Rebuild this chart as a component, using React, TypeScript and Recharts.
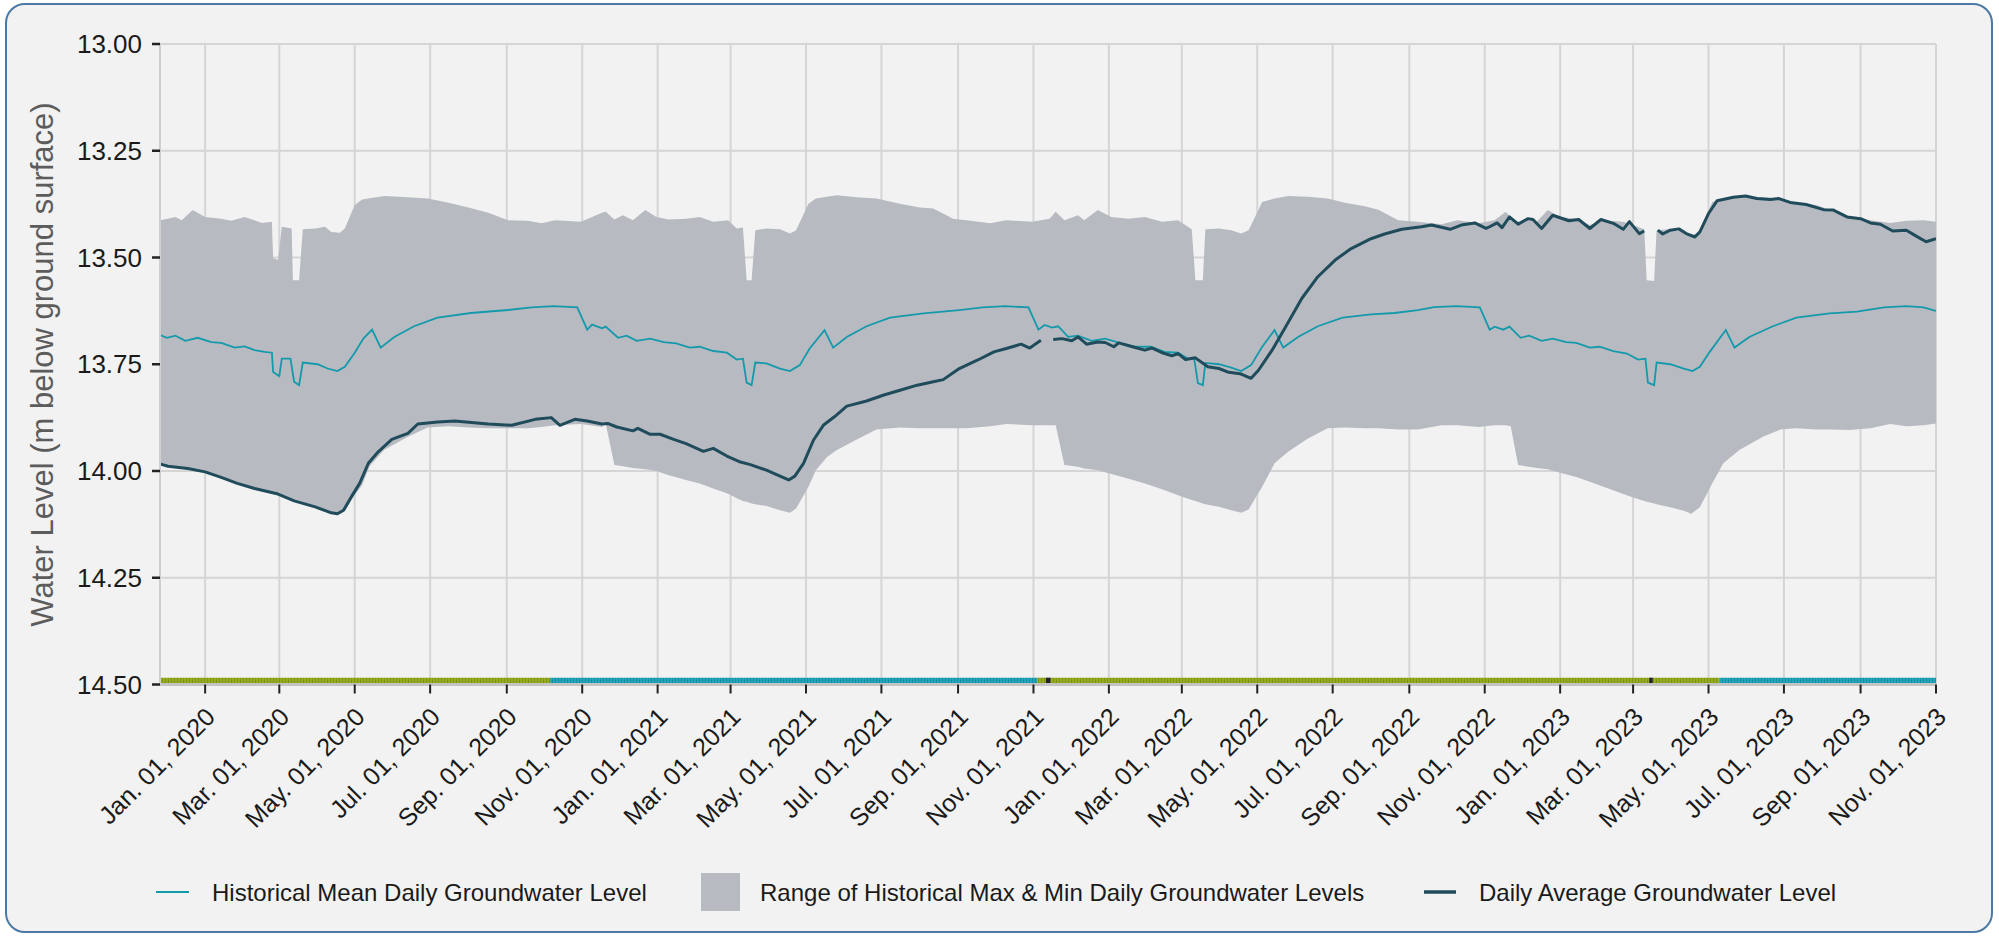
import React from 'react';
import { Area, CartesianGrid, ComposedChart, Line, ReferenceArea, XAxis, YAxis } from 'recharts';

const FONT = '"Liberation Sans", Arial, Helvetica, sans-serif';

const BAND_COLOR = '#b7bbc1';
const MEAN_COLOR = '#1499ab';
const LEVEL_COLOR = '#1f4b5b';
const GRID_COLOR = '#d5d5d5';

const domainStart = '2019-11-25T12:00:00Z';
const domainEnd = '2023-11-01';

const tickDates = [
  '2020-01-01', '2020-03-01', '2020-05-01', '2020-07-01', '2020-09-01', '2020-11-01',
  '2021-01-01', '2021-03-01', '2021-05-01', '2021-07-01', '2021-09-01', '2021-11-01',
  '2022-01-01', '2022-03-01', '2022-05-01', '2022-07-01', '2022-09-01', '2022-11-01',
  '2023-01-01', '2023-03-01', '2023-05-01', '2023-07-01', '2023-09-01', '2023-11-01',
];
const monthLabels = ['Jan.', 'Feb.', 'Mar.', 'Apr.', 'May.', 'Jun.', 'Jul.', 'Aug.', 'Sep.', 'Oct.', 'Nov.', 'Dec.'];
const levelTicks = [13, 13.25, 13.5, 13.75, 14, 14.25, 14.5];

// [date, historical max, historical min]
const historicalRange: [string, number, number][] = [
  ['2019-11-26', 13.413, 13.984], ['2019-12-08', 13.405, 13.99], ['2019-12-13', 13.413, 13.992],
  ['2019-12-22', 13.389, 13.996], ['2020-01-01', 13.405, 14.002], ['2020-01-14', 13.409, 14.015],
  ['2020-01-22', 13.414, 14.024], ['2020-02-02', 13.405, 14.032], ['2020-02-16', 13.419, 14.045],
  ['2020-02-24', 13.416, 14.051], ['2020-02-25', 13.502, 14.052], ['2020-02-29', 13.506, 14.054],
  ['2020-03-03', 13.428, 14.057], ['2020-03-11', 13.432, 14.067], ['2020-03-12', 13.553, 14.068],
  ['2020-03-17', 13.553, 14.073], ['2020-03-20', 13.434, 14.076], ['2020-03-30', 13.432, 14.084],
  ['2020-04-07', 13.428, 14.092], ['2020-04-12', 13.44, 14.098], ['2020-04-19', 13.442, 14.1],
  ['2020-04-23', 13.432, 14.093], ['2020-05-01', 13.377, 14.057], ['2020-05-07', 13.364, 14.033],
  ['2020-05-13', 13.361, 13.989], ['2020-05-25', 13.356, 13.95], ['2020-06-13', 13.359, 13.92],
  ['2020-06-29', 13.362, 13.898], ['2020-07-16', 13.372, 13.895], ['2020-08-01', 13.383, 13.898],
  ['2020-08-17', 13.395, 13.9], ['2020-09-02', 13.413, 13.9], ['2020-09-18', 13.414, 13.9],
  ['2020-09-29', 13.42, 13.897], ['2020-10-10', 13.413, 13.893], ['2020-10-31', 13.416, 13.89],
  ['2020-11-17', 13.395, 13.897], ['2020-11-20', 13.393, 13.889], ['2020-11-27', 13.411, 13.986],
  ['2020-12-04', 13.401, 13.989], ['2020-12-12', 13.413, 13.993], ['2020-12-22', 13.389, 13.996],
  ['2020-12-31', 13.405, 14.0], ['2021-01-10', 13.411, 14.01], ['2021-01-24', 13.409, 14.021],
  ['2021-02-04', 13.405, 14.029], ['2021-02-15', 13.416, 14.041], ['2021-02-27', 13.413, 14.053],
  ['2021-03-06', 13.432, 14.064], ['2021-03-11', 13.43, 14.07], ['2021-03-14', 13.553, 14.072],
  ['2021-03-18', 13.553, 14.076], ['2021-03-21', 13.436, 14.078], ['2021-03-30', 13.432, 14.082],
  ['2021-04-10', 13.434, 14.092], ['2021-04-18', 13.444, 14.098], ['2021-04-23', 13.436, 14.088],
  ['2021-05-03', 13.374, 14.037], ['2021-05-09', 13.362, 13.998], ['2021-05-18', 13.358, 13.967],
  ['2021-05-26', 13.354, 13.951], ['2021-06-11', 13.359, 13.926], ['2021-06-27', 13.362, 13.903],
  ['2021-07-16', 13.374, 13.898], ['2021-08-01', 13.383, 13.9], ['2021-08-12', 13.385, 13.9],
  ['2021-08-28', 13.409, 13.9], ['2021-09-08', 13.413, 13.9], ['2021-09-27', 13.42, 13.895],
  ['2021-10-10', 13.413, 13.89], ['2021-10-31', 13.416, 13.893], ['2021-11-14', 13.409, 13.893],
  ['2021-11-19', 13.393, 13.893], ['2021-11-26', 13.413, 13.986], ['2021-12-07', 13.401, 13.99],
  ['2021-12-12', 13.413, 13.994], ['2021-12-23', 13.389, 13.998], ['2022-01-03', 13.405, 14.007],
  ['2022-01-17', 13.409, 14.018], ['2022-01-30', 13.405, 14.029], ['2022-02-13', 13.416, 14.043],
  ['2022-02-26', 13.413, 14.057], ['2022-03-09', 13.434, 14.068], ['2022-03-12', 13.553, 14.07],
  ['2022-03-18', 13.553, 14.076], ['2022-03-20', 13.434, 14.078], ['2022-03-31', 13.432, 14.084],
  ['2022-04-10', 13.436, 14.092], ['2022-04-18', 13.444, 14.098], ['2022-04-24', 13.436, 14.09],
  ['2022-05-05', 13.37, 14.037], ['2022-05-15', 13.362, 13.982], ['2022-05-26', 13.356, 13.955],
  ['2022-06-11', 13.358, 13.924], ['2022-06-27', 13.362, 13.9], ['2022-07-11', 13.372, 13.898],
  ['2022-07-27', 13.38, 13.9], ['2022-08-07', 13.388, 13.9], ['2022-08-23', 13.413, 13.903],
  ['2022-09-08', 13.416, 13.903], ['2022-09-27', 13.422, 13.893], ['2022-10-10', 13.413, 13.893],
  ['2022-10-27', 13.42, 13.897], ['2022-11-09', 13.413, 13.893], ['2022-11-18', 13.393, 13.893],
  ['2022-11-22', 13.405, 13.895], ['2022-11-28', 13.416, 13.986], ['2022-12-04', 13.409, 13.989],
  ['2022-12-13', 13.416, 13.993], ['2022-12-22', 13.389, 13.996], ['2023-01-01', 13.405, 14.004],
  ['2023-01-14', 13.409, 14.014], ['2023-01-25', 13.424, 14.025], ['2023-02-05', 13.413, 14.037],
  ['2023-02-21', 13.416, 14.054], ['2023-03-01', 13.424, 14.062], ['2023-03-10', 13.434, 14.07],
  ['2023-03-12', 13.553, 14.072], ['2023-03-18', 13.555, 14.076], ['2023-03-20', 13.436, 14.078],
  ['2023-03-31', 13.434, 14.085], ['2023-04-11', 13.44, 14.093], ['2023-04-17', 13.448, 14.1],
  ['2023-04-24', 13.44, 14.085], ['2023-05-04', 13.37, 14.029], ['2023-05-13', 13.362, 13.982],
  ['2023-05-26', 13.356, 13.951], ['2023-06-14', 13.359, 13.92], ['2023-06-28', 13.362, 13.903],
  ['2023-07-11', 13.372, 13.9], ['2023-07-27', 13.377, 13.903], ['2023-08-07', 13.388, 13.903],
  ['2023-08-23', 13.405, 13.904], ['2023-09-09', 13.413, 13.9], ['2023-09-25', 13.419, 13.89],
  ['2023-10-08', 13.414, 13.895], ['2023-10-22', 13.413, 13.893], ['2023-11-01', 13.416, 13.889],
];

const historicalMean: [string, number][] = [
  ['2019-11-26', 13.682], ['2019-12-01', 13.688], ['2019-12-08', 13.683], ['2019-12-16', 13.695],
  ['2019-12-26', 13.688], ['2020-01-06', 13.698], ['2020-01-14', 13.7], ['2020-01-25', 13.711],
  ['2020-02-02', 13.708], ['2020-02-10', 13.717], ['2020-02-18', 13.721], ['2020-02-24', 13.723],
  ['2020-02-25', 13.768], ['2020-03-01', 13.778], ['2020-03-03', 13.737], ['2020-03-10', 13.737],
  ['2020-03-13', 13.791], ['2020-03-17', 13.799], ['2020-03-20', 13.746], ['2020-04-01', 13.75],
  ['2020-04-09', 13.76], ['2020-04-17', 13.766], ['2020-04-23', 13.756], ['2020-05-01', 13.723],
  ['2020-05-08', 13.69], ['2020-05-15', 13.669], ['2020-05-22', 13.711], ['2020-06-02', 13.686],
  ['2020-06-18', 13.661], ['2020-07-07', 13.641], ['2020-08-03', 13.63], ['2020-09-02', 13.623],
  ['2020-09-21', 13.617], ['2020-10-09', 13.614], ['2020-10-28', 13.617], ['2020-11-05', 13.669],
  ['2020-11-09', 13.657], ['2020-11-17', 13.666], ['2020-11-20', 13.662], ['2020-11-30', 13.688],
  ['2020-12-07', 13.683], ['2020-12-15', 13.695], ['2020-12-26', 13.69], ['2021-01-06', 13.698],
  ['2021-01-16', 13.701], ['2021-01-27', 13.711], ['2021-02-04', 13.709], ['2021-02-15', 13.719],
  ['2021-02-26', 13.723], ['2021-03-06', 13.739], ['2021-03-11', 13.737], ['2021-03-14', 13.793],
  ['2021-03-18', 13.799], ['2021-03-21', 13.746], ['2021-03-30', 13.748], ['2021-04-10', 13.76],
  ['2021-04-18', 13.766], ['2021-04-26', 13.752], ['2021-05-04', 13.713], ['2021-05-16', 13.67],
  ['2021-05-23', 13.711], ['2021-06-03', 13.686], ['2021-06-19', 13.661], ['2021-07-08', 13.641],
  ['2021-08-04', 13.631], ['2021-09-02', 13.623], ['2021-09-21', 13.617], ['2021-10-09', 13.614],
  ['2021-10-28', 13.617], ['2021-11-05', 13.669], ['2021-11-10', 13.658], ['2021-11-16', 13.664],
  ['2021-11-21', 13.661], ['2021-11-29', 13.686], ['2021-12-07', 13.683], ['2021-12-18', 13.695],
  ['2021-12-29', 13.69], ['2022-01-11', 13.701], ['2022-01-22', 13.709], ['2022-02-04', 13.709],
  ['2022-02-15', 13.721], ['2022-02-26', 13.723], ['2022-03-06', 13.737], ['2022-03-11', 13.737],
  ['2022-03-14', 13.794], ['2022-03-18', 13.799], ['2022-03-20', 13.747], ['2022-03-31', 13.75],
  ['2022-04-10', 13.758], ['2022-04-18', 13.766], ['2022-04-26', 13.752], ['2022-05-05', 13.709],
  ['2022-05-15', 13.67], ['2022-05-22', 13.711], ['2022-06-03', 13.686], ['2022-06-19', 13.661],
  ['2022-07-09', 13.641], ['2022-08-01', 13.633], ['2022-08-20', 13.63], ['2022-09-08', 13.623],
  ['2022-09-21', 13.616], ['2022-10-09', 13.614], ['2022-10-28', 13.617], ['2022-11-05', 13.669],
  ['2022-11-09', 13.662], ['2022-11-16', 13.669], ['2022-11-21', 13.662], ['2022-11-30', 13.688],
  ['2022-12-07', 13.683], ['2022-12-17', 13.695], ['2022-12-26', 13.69], ['2023-01-06', 13.698],
  ['2023-01-14', 13.7], ['2023-01-25', 13.711], ['2023-02-02', 13.709], ['2023-02-13', 13.719],
  ['2023-02-24', 13.725], ['2023-03-05', 13.739], ['2023-03-11', 13.737], ['2023-03-13', 13.793],
  ['2023-03-18', 13.799], ['2023-03-20', 13.746], ['2023-03-31', 13.75], ['2023-04-11', 13.76],
  ['2023-04-18', 13.766], ['2023-04-24', 13.756], ['2023-05-02', 13.721], ['2023-05-15', 13.67],
  ['2023-05-22', 13.711], ['2023-06-03', 13.686], ['2023-06-22', 13.661], ['2023-07-11', 13.641],
  ['2023-08-07', 13.631], ['2023-08-29', 13.627], ['2023-09-20', 13.617], ['2023-10-08', 13.614],
  ['2023-10-22', 13.617], ['2023-11-01', 13.625],
];

// null = no record (line breaks there)
const dailyAverage: [string, number | null][] = [
  ['2019-11-26', 13.984], ['2019-12-02', 13.989], ['2019-12-18', 13.994], ['2020-01-01', 14.002],
  ['2020-01-14', 14.015], ['2020-01-27', 14.029], ['2020-02-10', 14.041], ['2020-02-29', 14.054],
  ['2020-03-13', 14.07], ['2020-03-30', 14.084], ['2020-04-12', 14.098], ['2020-04-17', 14.1],
  ['2020-04-22', 14.092], ['2020-04-29', 14.057], ['2020-05-05', 14.029], ['2020-05-12', 13.982],
  ['2020-05-20', 13.955], ['2020-05-31', 13.926], ['2020-06-13', 13.912], ['2020-06-21', 13.89],
  ['2020-07-07', 13.885], ['2020-07-21', 13.883], ['2020-08-17', 13.89], ['2020-09-05', 13.893],
  ['2020-09-24', 13.879], ['2020-10-07', 13.875], ['2020-10-14', 13.893], ['2020-10-26', 13.879],
  ['2020-11-05', 13.883], ['2020-11-17', 13.89], ['2020-11-22', 13.889], ['2020-11-29', 13.897],
  ['2020-12-12', 13.906], ['2020-12-16', 13.9], ['2020-12-26', 13.914], ['2021-01-03', 13.914],
  ['2021-01-14', 13.926], ['2021-01-24', 13.936], ['2021-02-07', 13.954], ['2021-02-15', 13.947],
  ['2021-02-26', 13.965], ['2021-03-09', 13.979], ['2021-03-17', 13.985], ['2021-03-30', 13.998],
  ['2021-04-10', 14.012], ['2021-04-17', 14.021], ['2021-04-22', 14.012], ['2021-04-29', 13.982],
  ['2021-05-07', 13.928], ['2021-05-15', 13.893], ['2021-05-24', 13.873], ['2021-06-03', 13.848],
  ['2021-06-19', 13.836], ['2021-07-03', 13.822], ['2021-07-16', 13.811], ['2021-07-30', 13.799],
  ['2021-08-12', 13.791], ['2021-08-20', 13.786], ['2021-09-02', 13.76], ['2021-09-17', 13.74],
  ['2021-09-30', 13.721], ['2021-10-10', 13.713], ['2021-10-22', 13.703], ['2021-10-29', 13.712],
  ['2021-11-07', 13.694], ['2021-11-12', null], ['2021-11-17', 13.692], ['2021-11-24', 13.69],
  ['2021-12-02', 13.695], ['2021-12-07', 13.686], ['2021-12-14', 13.703], ['2021-12-23', 13.698],
  ['2021-12-29', 13.699], ['2022-01-05', 13.709], ['2022-01-09', 13.7], ['2022-01-20', 13.709],
  ['2022-01-30', 13.717], ['2022-02-05', 13.712], ['2022-02-13', 13.723], ['2022-02-21', 13.73],
  ['2022-02-26', 13.725], ['2022-03-04', 13.739], ['2022-03-12', 13.735], ['2022-03-22', 13.756],
  ['2022-03-31', 13.76], ['2022-04-08', 13.769], ['2022-04-17', 13.772], ['2022-04-26', 13.783],
  ['2022-05-02', 13.764], ['2022-05-13', 13.717], ['2022-05-24', 13.662], ['2022-06-06', 13.596],
  ['2022-06-19', 13.545], ['2022-07-03', 13.506], ['2022-07-16', 13.479], ['2022-08-01', 13.456],
  ['2022-08-12', 13.445], ['2022-08-26', 13.434], ['2022-09-11', 13.428], ['2022-09-19', 13.424],
  ['2022-10-04', 13.434], ['2022-10-13', 13.424], ['2022-10-24', 13.419], ['2022-11-02', 13.432],
  ['2022-11-05', 13.428], ['2022-11-11', 13.419], ['2022-11-15', 13.43], ['2022-11-21', 13.405],
  ['2022-11-28', 13.422], ['2022-12-06', 13.409], ['2022-12-10', 13.411], ['2022-12-17', 13.432],
  ['2022-12-26', 13.401], ['2023-01-08', 13.414], ['2023-01-16', 13.411], ['2023-01-25', 13.432],
  ['2023-02-03', 13.411], ['2023-02-13', 13.42], ['2023-02-21', 13.434], ['2023-02-26', 13.416],
  ['2023-03-06', 13.444], ['2023-03-10', 13.438], ['2023-03-15', null], ['2023-03-21', 13.436],
  ['2023-03-25', 13.445], ['2023-03-31', 13.436], ['2023-04-07', 13.433], ['2023-04-13', 13.444],
  ['2023-04-20', 13.452], ['2023-04-24', 13.44], ['2023-05-01', 13.397], ['2023-05-08', 13.367],
  ['2023-05-21', 13.359], ['2023-05-31', 13.356], ['2023-06-09', 13.362], ['2023-06-20', 13.364],
  ['2023-06-27', 13.362], ['2023-07-06', 13.371], ['2023-07-19', 13.376], ['2023-08-02', 13.388],
  ['2023-08-10', 13.389], ['2023-08-21', 13.405], ['2023-09-01', 13.409], ['2023-09-09', 13.419],
  ['2023-09-17', 13.422], ['2023-09-27', 13.438], ['2023-10-08', 13.436], ['2023-10-16', 13.45],
  ['2023-10-24', 13.463], ['2023-11-01', 13.456],
];

// status strip along the bottom of the plot: [from, to, colour key]
const statusStrip: [string, string, string][] = [
  [domainStart, '2020-10-06', 'green'],
  ['2020-10-06', '2021-11-04', 'blue'],
  ['2021-11-04', '2021-11-11', 'green'],
  ['2021-11-11', '2021-11-15', 'black'],
  ['2021-11-15', '2023-03-14', 'green'],
  ['2023-03-14', '2023-03-17', 'black'],
  ['2023-03-17', '2023-05-10', 'green'],
  ['2023-05-10', domainEnd, 'blue'],
];
const stripFill: Record<string, string> = {
  green: 'url(#stripeGreen)',
  blue: 'url(#stripeBlue)',
  black: '#222222',
};

const toTime = (d: string) => new Date(d.length === 10 ? `${d}T00:00:00Z` : d).getTime();

const formatDate = (t: number) => {
  const d = new Date(t);
  const day = String(d.getUTCDate()).padStart(2, '0');
  return `${monthLabels[d.getUTCMonth()]} ${day}, ${d.getUTCFullYear()}`;
};

const XTick = (props: any) => {
  const { x, y, payload } = props;
  const ax = x + 11.5;
  const ay = y + 23;
  return (
    <text
      x={ax}
      y={ay}
      transform={`rotate(-45 ${ax} ${ay})`}
      textAnchor="end"
      fontSize={25}
      fontFamily={FONT}
      fill="#1a1a1a"
    >
      {formatDate(payload.value)}
    </text>
  );
};

const App = () => {
  const rangeData = historicalRange.map(([d, max, min]) => ({ t: toTime(d), range: [min, max] }));
  const meanData = historicalMean.map(([d, v]) => ({ t: toTime(d), v }));
  const levelData = dailyAverage.map(([d, v]) => ({ t: toTime(d), v }));

  return (
    <div style={{ position: 'absolute', left: 0, top: 0, width: 1999, height: 936, background: '#ffffff', fontFamily: FONT }}>
      <div
        style={{
          position: 'absolute',
          left: 5,
          top: 3,
          width: 1988,
          height: 930,
          boxSizing: 'border-box',
          border: '2.5px solid #4a79a6',
          borderRadius: 20,
          background: '#f2f2f2',
        }}
      />
      <div style={{ position: 'absolute', left: 0, top: 0 }}>
        <ComposedChart width={1999} height={936} margin={{ top: 44, right: 63, bottom: 221.5, left: 0 }}>
          <defs>
            <pattern id="stripeGreen" width="3" height="10" patternUnits="userSpaceOnUse">
              <rect width="3" height="10" fill="#93ab1d" />
              <rect width="1" height="10" fill="#7f9518" />
            </pattern>
            <pattern id="stripeBlue" width="3" height="10" patternUnits="userSpaceOnUse">
              <rect width="3" height="10" fill="#22a5ba" />
              <rect width="1" height="10" fill="#1a8fa1" />
            </pattern>
          </defs>
          <CartesianGrid stroke={GRID_COLOR} strokeWidth={2} />
          <XAxis
            type="number"
            dataKey="t"
            domain={[toTime(domainStart), toTime(domainEnd)]}
            allowDataOverflow
            ticks={tickDates.map(toTime)}
            interval={0}
            height={30}
            tick={<XTick />}
            tickSize={9}
            tickLine={{ stroke: '#222222', strokeWidth: 2 }}
            axisLine={{ stroke: '#c4c4c4', strokeWidth: 3 }}
          />
          <YAxis
            type="number"
            reversed
            domain={[13, 14.5]}
            allowDataOverflow
            ticks={levelTicks}
            interval={0}
            width={160}
            tickFormatter={(v: number) => v.toFixed(2)}
            tick={{ fontSize: 26, fill: '#1a1a1a', fontFamily: FONT }}
            tickSize={8}
            tickMargin={10}
            tickLine={{ stroke: '#222222', strokeWidth: 2.5 }}
            axisLine={{ stroke: '#cfcfcf', strokeWidth: 2 }}
          />
          <Area
            data={rangeData}
            dataKey="range"
            type="linear"
            fill={BAND_COLOR}
            fillOpacity={1}
            stroke="none"
            isAnimationActive={false}
            activeDot={false}
          />
          <Line
            data={meanData}
            dataKey="v"
            type="linear"
            stroke={MEAN_COLOR}
            strokeWidth={1.8}
            dot={false}
            activeDot={false}
            isAnimationActive={false}
          />
          <Line
            data={levelData}
            dataKey="v"
            type="linear"
            stroke={LEVEL_COLOR}
            strokeWidth={3}
            strokeLinejoin="round"
            dot={false}
            activeDot={false}
            connectNulls={false}
            isAnimationActive={false}
          />
          {statusStrip.map(([from, to, key]) => (
            <ReferenceArea
              key={from}
              x1={toTime(from)}
              x2={toTime(to)}
              y1={14.484}
              y2={14.497}
              fill={stripFill[key]}
              fillOpacity={1}
              stroke="none"
            />
          ))}
        </ComposedChart>
      </div>
      <svg width={1999} height={936} style={{ position: 'absolute', left: 0, top: 0, pointerEvents: 'none' }}>
        <text
          x={53}
          y={364.5}
          transform="rotate(-90 53 364.5)"
          textAnchor="middle"
          fontSize={31}
          fontFamily={FONT}
          fill="#5c5c5c"
        >
          Water Level (m below ground surface)
        </text>
        <line x1={156} x2={189} y1={892} y2={892} stroke={MEAN_COLOR} strokeWidth={2} />
        <text x={212} y={901} fontSize={24} fontFamily={FONT} fill="#1a1a1a">
          Historical Mean Daily Groundwater Level
        </text>
        <rect x={701} y={873} width={39} height={38} fill={BAND_COLOR} />
        <text x={760} y={901} fontSize={24} fontFamily={FONT} fill="#1a1a1a">
          Range of Historical Max &amp; Min Daily Groundwater Levels
        </text>
        <line x1={1424} x2={1456} y1={892} y2={892} stroke={LEVEL_COLOR} strokeWidth={3.5} />
        <text x={1479} y={901} fontSize={24} fontFamily={FONT} fill="#1a1a1a">
          Daily Average Groundwater Level
        </text>
      </svg>
    </div>
  );
};

export default App;
